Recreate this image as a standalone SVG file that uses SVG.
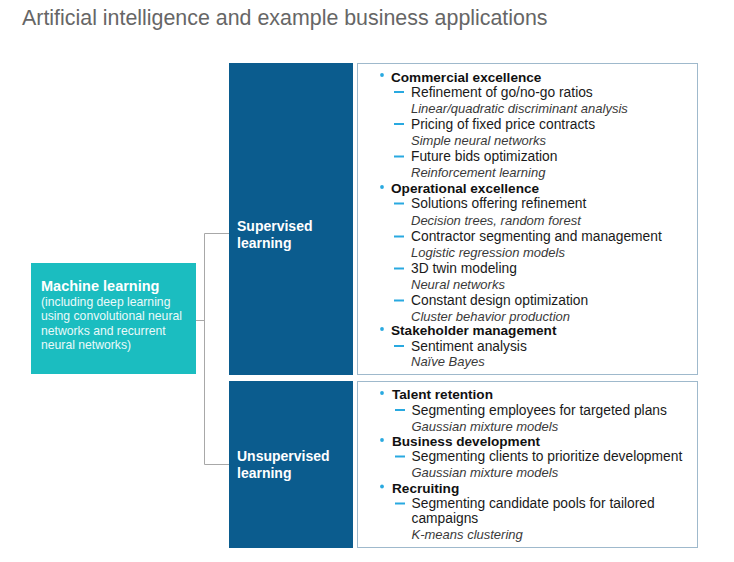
<svg xmlns="http://www.w3.org/2000/svg" width="734" height="562" viewBox="0 0 734 562">
<style>
text{font-family:"Liberation Sans",Arial,sans-serif}
.title{font-size:21.4px;fill:#666}
.box-dark{fill:#0b5c8e}
.box-teal{fill:#1bbdc0}
.panel{fill:#fff;stroke:#9fb9cc;stroke-width:1}
.lbl{font-size:14px;font-weight:bold;fill:#fff}
.ml{font-size:14.5px;font-weight:bold;fill:#fff}
.mls{font-size:12.2px;fill:#eafafa}
.hd{font-size:13.6px;font-weight:bold;fill:#111}
.it{font-size:13.8px;fill:#1a1a1a}
.sub{font-size:13px;font-style:italic;fill:#3a3a3a}
.dot{fill:#29a9e0}
.dash{stroke:#29a9e0;stroke-width:2}
.conn{fill:none;stroke:#a8a8a8;stroke-width:1}
</style>
<defs>
<line id="d" class="dash" x1="0" y1="0" x2="10" y2="0"/>
<circle id="b" class="dot" r="1.9"/>
</defs>
<rect width="734" height="562" fill="#fff"/>
<text class="title" x="22" y="25">Artificial intelligence and example business applications</text>

<g id="connectors">
<path class="conn" d="M195.5 320.5H204.5M204.5 233.5V464.5M204.5 233.5H229M204.5 464.5H229"/>
</g>

<g id="machine-learning">
<rect class="box-teal" x="31" y="263" width="165" height="111"/>
<text class="ml" x="41" y="291">Machine learning</text>
<text class="mls" x="41" y="305.5">(including deep learning</text>
<text class="mls" x="41" y="320">using convolutional neural</text>
<text class="mls" x="41" y="334.5">networks and recurrent</text>
<text class="mls" x="41" y="349">neural networks)</text>
</g>

<g id="supervised">
<rect class="box-dark" x="229" y="63" width="124" height="312"/>
<text class="lbl" x="237" y="230.5">Supervised</text>
<text class="lbl" x="237" y="247.5">learning</text>
</g>

<g id="unsupervised">
<rect class="box-dark" x="229" y="381" width="124" height="167"/>
<text class="lbl" x="237" y="461">Unsupervised</text>
<text class="lbl" x="237" y="478">learning</text>
</g>

<g id="supervised-applications">
<rect class="panel" x="357.5" y="63.5" width="340" height="311"/>
<use href="#b" x="382" y="75"/>
<text class="hd" x="391" y="81.5">Commercial excellence</text>
<use href="#d" x="394" y="92"/>
<text class="it" x="411" y="96.5">Refinement of go/no-go ratios</text>
<text class="sub" x="411" y="112.5">Linear/quadratic discriminant analysis</text>
<use href="#d" x="394" y="124"/>
<text class="it" x="411" y="128.5">Pricing of fixed price contracts</text>
<text class="sub" x="411" y="145">Simple neural networks</text>
<use href="#d" x="394" y="156.5"/>
<text class="it" x="411" y="161">Future bids optimization</text>
<text class="sub" x="411" y="177">Reinforcement learning</text>
<use href="#b" x="382" y="187"/>
<text class="hd" x="391" y="193.3">Operational excellence</text>
<use href="#d" x="394" y="203.5"/>
<text class="it" x="411" y="208.3">Solutions offering refinement</text>
<text class="sub" x="411" y="224.5">Decision trees, random forest</text>
<use href="#d" x="394" y="236.5"/>
<text class="it" x="411" y="241">Contractor segmenting and management</text>
<text class="sub" x="411" y="257">Logistic regression models</text>
<use href="#d" x="394" y="268.5"/>
<text class="it" x="411" y="273">3D twin modeling</text>
<text class="sub" x="411" y="289">Neural networks</text>
<use href="#d" x="394" y="300.5"/>
<text class="it" x="411" y="305">Constant design optimization</text>
<text class="sub" x="411" y="321">Cluster behavior production</text>
<use href="#b" x="382" y="329"/>
<text class="hd" x="391" y="335.3">Stakeholder management</text>
<use href="#d" x="394" y="346"/>
<text class="it" x="411" y="350.6">Sentiment analysis</text>
<text class="sub" x="411" y="366">Naïve Bayes</text>
</g>

<g id="unsupervised-applications">
<rect class="panel" x="357.5" y="381.5" width="340" height="166"/>
<use href="#b" x="382" y="393"/>
<text class="hd" x="392" y="399.4">Talent retention</text>
<use href="#d" x="395" y="410"/>
<text class="it" x="411.5" y="414.6">Segmenting employees for targeted plans</text>
<text class="sub" x="411.5" y="430.5">Gaussian mixture models</text>
<use href="#b" x="382" y="440"/>
<text class="hd" x="392" y="446.3">Business development</text>
<use href="#d" x="395" y="456.5"/>
<text class="it" x="411.5" y="461.3">Segmenting clients to prioritize development</text>
<text class="sub" x="411.5" y="477">Gaussian mixture models</text>
<use href="#b" x="382" y="486.5"/>
<text class="hd" x="392" y="492.8">Recruiting</text>
<use href="#d" x="395" y="503.5"/>
<text class="it" x="411.5" y="508">Segmenting candidate pools for tailored</text>
<text class="it" x="411.5" y="523">campaigns</text>
<text class="sub" x="411.5" y="539">K-means clustering</text>
</g>
</svg>
